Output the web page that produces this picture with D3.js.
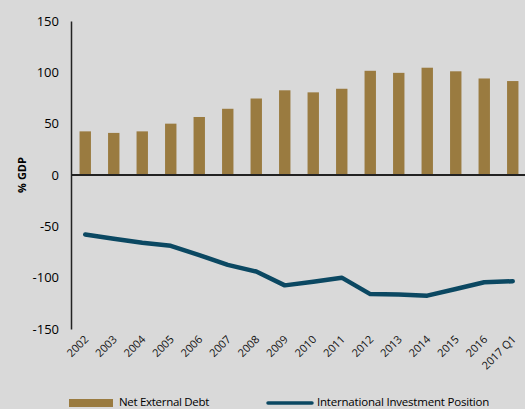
<!DOCTYPE html>
<html><head><meta charset="utf-8">
<script src="https://cdn.jsdelivr.net/npm/d3@7"></script>
<style>
html,body{margin:0;padding:0;background:#d9d9d9;}
svg{display:block;font-family:"Open Sans",sans-serif;}
</style></head>
<body>
<svg id="chart" width="525" height="409"></svg>
<script>
const categories = ["2002","2003","2004","2005","2006","2007","2008","2009","2010","2011","2012","2013","2014","2015","2016","2017 Q1"];
const netExternalDebt = [42.5, 41, 42.5, 50, 56.5, 64.5, 74.5, 82.5, 80.5, 84, 101.5, 99.5, 104.5, 101, 94, 91.5];
const iip = [-58, -62, -66, -69, -78, -87.5, -94, -107.5, -104, -100, -116, -116.5, -117.5, -111, -104.5, -103.5];
const yTicks = [150, 100, 50, 0, -50, -100, -150];

const svg = d3.select("#chart");
const plotLeft = 71, plotRight = 527, plotTop = 21, plotBottom = 329;

const x = d3.scaleBand().domain(categories).range([plotLeft, plotRight]).paddingInner(0.6).paddingOuter(0.3);
const y = d3.scaleLinear().domain([-150, 150]).range([plotBottom, plotTop]);

// bars
svg.append("g").selectAll("rect").data(categories).join("rect")
  .attr("x", d => x(d))
  .attr("width", x.bandwidth())
  .attr("y", (d,i) => y(netExternalDebt[i]))
  .attr("height", (d,i) => y(0) - y(netExternalDebt[i]))
  .attr("fill", "#9a7b40");

// zero line
svg.append("line").attr("x1", plotLeft).attr("x2", 525).attr("y1", y(0)).attr("y2", y(0))
  .attr("stroke", "#222").attr("stroke-width", 2);

// y axis
const yAxis = d3.axisLeft(y).tickValues(yTicks).tickSize(0).tickPadding(12).tickFormat(d => String(d));
const gy = svg.append("g").attr("transform", `translate(${plotLeft},0)`).call(yAxis);
gy.select(".domain").attr("stroke", "#222").attr("stroke-width", 1.5);
gy.selectAll("text").attr("font-size", 13).attr("fill", "#000").attr("font-family", "Open Sans");

// line
const line = d3.line().x((d,i) => x(categories[i]) + x.bandwidth()/2).y(d => y(d));
svg.append("path").datum(iip).attr("d", line)
  .attr("fill", "none").attr("stroke", "#0b4862").attr("stroke-width", 4.5)
  .attr("stroke-linecap", "round").attr("stroke-linejoin", "round");

// x labels
svg.append("g").selectAll("text").data(categories).join("text")
  .attr("transform", d => `translate(${x(d) + x.bandwidth()/2 + 4},${340}) rotate(-45)`)
  .attr("text-anchor", "end")
  .attr("font-size", 11).attr("fill", "#111")
  .text(d => d);

// y label
svg.append("text").attr("transform", `translate(26,175) rotate(-90)`)
  .attr("text-anchor", "middle").attr("font-size", 11).attr("font-weight", "bold").attr("fill", "#000")
  .text("% GDP");

// legend
const lg = svg.append("g");
lg.append("rect").attr("x", 69).attr("y", 399).attr("width", 44).attr("height", 8).attr("fill", "#9a7b40");
lg.append("text").attr("x", 119).attr("y", 405.5).attr("font-size", 11.5).attr("fill", "#000").attr("letter-spacing", -0.3).text("Net External Debt");
lg.append("line").attr("x1", 268).attr("x2", 312).attr("y1", 403).attr("y2", 403)
  .attr("stroke", "#0b4862").attr("stroke-width", 3.5).attr("stroke-linecap", "round");
lg.append("text").attr("x", 317).attr("y", 405.5).attr("font-size", 11.5).attr("fill", "#000").attr("letter-spacing", -0.2).text("International Investment Position");
</script>
</body></html>
